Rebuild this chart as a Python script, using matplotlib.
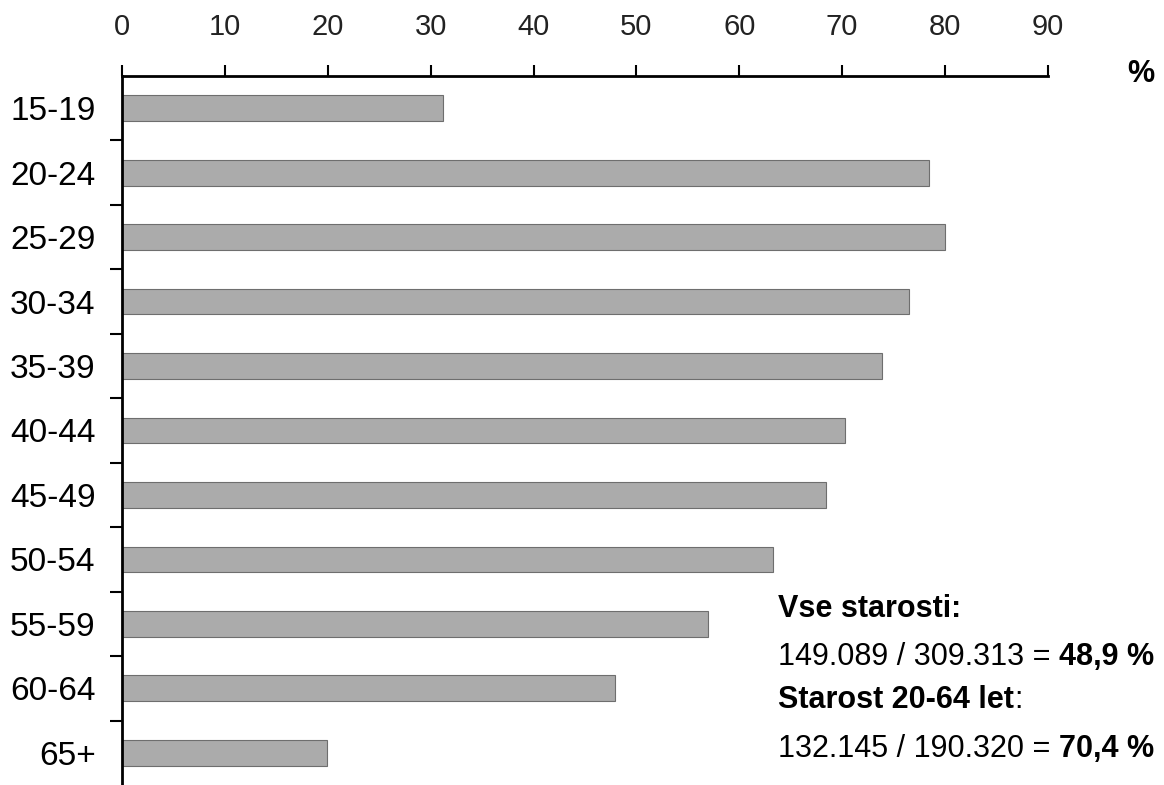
import matplotlib.pyplot as plt
import numpy as np

# =========================================================
# PODATKI
# =========================================================

starostne_skupine = ['15-19', '20-24', '25-29', '30-34', '35-39', '40-44',
                     '45-49', '50-54', '55-59', '60-64', '65+']

delez = [31.2, 78.4, 80.0, 76.5, 73.9, 70.3, 68.4, 63.3, 57.0, 47.9, 19.9]

x_ticks = [0, 10, 20, 30, 40, 50, 60, 70, 80, 90]

vse_stevec = '149.089'
vse_imenovalec = '309.313'
vse_delez = '48,9 %'

aktivni_stevec = '132.145'
aktivni_imenovalec = '190.320'
aktivni_delez = '70,4 %'

# =========================================================
# GRAF
# =========================================================

plt.rcParams['font.family'] = ['Liberation Sans', 'DejaVu Sans']


def narisi_graf():

    fig = plt.figure(figsize=(11.64, 7.85), dpi=100)
    ax = fig.add_axes([0.1048, 0.0, 0.7955, 0.9032])

    y = np.arange(len(starostne_skupine))

    ax.barh(
        y,
        delez,
        height=0.40,
        color='#ababab',
        edgecolor='#6e6e6e',
        linewidth=0.8
    )

    ax.set_xlim(0, 90)
    ax.set_ylim(len(starostne_skupine) - 0.5, -0.5)

    # os x zgoraj
    ax.xaxis.tick_top()
    ax.set_xticks(x_ticks)
    ax.tick_params(
        axis='x',
        which='major',
        direction='out',
        length=8,
        width=1.5,
        pad=17,
        labelsize=21,
        labelcolor='#222222'
    )

    # os y: oznake na sredini, kljukice med skupinami
    ax.set_yticks(y)
    ax.set_yticklabels(starostne_skupine)
    ax.set_yticks(y[:-1] + 0.5, minor=True)
    ax.tick_params(axis='y', which='major', length=0, pad=19, labelsize=24)
    ax.tick_params(axis='y', which='minor', direction='out', length=9, width=1.5)

    for stran in ['right', 'bottom']:
        ax.spines[stran].set_visible(False)
    ax.spines['top'].set_linewidth(2)
    ax.spines['left'].set_linewidth(2)

    fig.text(1141 / 1164, 1 - 74 / 785, '%', ha='center', va='center',
             fontsize=22, fontweight='bold')

    # =====================================================
    # BESEDILO SPODAJ DESNO
    # =====================================================

    x0 = 778 / 1164
    vel = 22

    fig.text(x0, 1 - 617 / 785, 'Vse starosti:', fontsize=vel,
             fontweight='bold', va='baseline')

    t = fig.text(x0, 1 - 665 / 785, f'{vse_stevec} / {vse_imenovalec} = ',
                 fontsize=vel, va='baseline')
    ax.annotate(vse_delez, xy=(1, 0), xycoords=t, va='bottom', ha='left',
                fontsize=vel, fontweight='bold')

    t = fig.text(x0, 1 - 708 / 785, 'Starost 20-64 let', fontsize=vel,
                 fontweight='bold', va='baseline')
    ax.annotate(':', xy=(1, 0), xycoords=t, va='bottom', ha='left',
                fontsize=vel)

    t = fig.text(x0, 1 - 757 / 785,
                 f'{aktivni_stevec} / {aktivni_imenovalec} = ',
                 fontsize=vel, va='baseline')
    ax.annotate(aktivni_delez, xy=(1, 0), xycoords=t, va='bottom', ha='left',
                fontsize=vel, fontweight='bold')

    fig.savefig('out.png', dpi=100)


if __name__ == "__main__":
    narisi_graf()
